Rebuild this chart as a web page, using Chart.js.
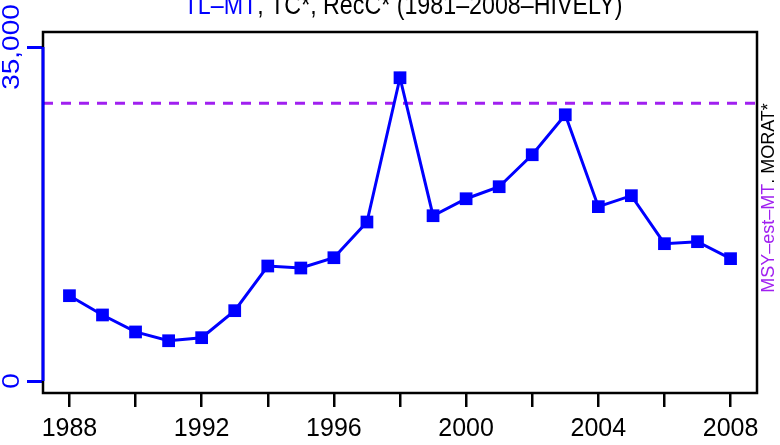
<!DOCTYPE html>
<html><head><meta charset="utf-8">
<script src="https://cdn.jsdelivr.net/npm/chart.js@4.4.0/dist/chart.umd.min.js"></script>
<style>html,body{margin:0;padding:0;background:#fff;overflow:hidden}</style>
</head><body>
<canvas id="c" width="780" height="445"></canvas>
<script>
// ---- data ----
const years = [1988,1989,1990,1991,1992,1993,1994,1995,1996,1997,1998,1999,2000,2001,2002,2003,2004,2005,2006,2007,2008];
const catchValues = [8940,6920,5140,4220,4540,7370,12050,11840,12920,16660,31780,17320,19100,20360,23710,27900,18270,19420,14390,14600,12820];
const msyLevel = 29100;
const yTickValues = [0, 35000];
const yTickLabels = ['0', '35,000'];
const xTickValues = [1988,1990,1992,1994,1996,1998,2000,2002,2004,2006,2008];
const xTickLabels = ['1988','','1992','','1996','','2000','','2004','','2008'];
const titleParts = [['TL\u2013MT', '#0000FF'], [', TC*, RecC* (1981\u20132008\u2013HIVELY)', '#000000']];
const rightParts = [['MSY\u2013est\u2013MT', '#A020F0'], ['. MORAT*', '#000000']];

const SQ = 0.83;
const BLUE = '#0000FF';
const PURPLE = '#A020F0';

const deco = {
  id: 'deco',
  afterDraw(chart) {
    const ctx = chart.ctx, ca = chart.chartArea;
    const ys = chart.scales.y;
    ctx.save();
    // box
    ctx.strokeStyle = '#000'; ctx.lineWidth = 2.5;
    ctx.strokeRect(ca.left, ca.top, ca.right - ca.left, ca.bottom - ca.top);
    // blue y axis segment
    ctx.strokeStyle = BLUE; ctx.lineWidth = 3;
    ctx.beginPath();
    ctx.moveTo(ca.left, ys.getPixelForValue(yTickValues[0]));
    ctx.lineTo(ca.left, ys.getPixelForValue(yTickValues[yTickValues.length - 1]));
    ctx.stroke();
    ctx.restore();
    // y tick labels (rotated)
    yTickValues.forEach((v, i) => {
      ctx.save();
      ctx.translate(13, ys.getPixelForValue(v));
      ctx.rotate(-Math.PI / 2);
      ctx.scale(1, SQ);
      ctx.font = '28px "Liberation Sans", Arial, sans-serif';
      ctx.textAlign = 'center'; ctx.textBaseline = 'middle';
      ctx.fillStyle = BLUE;
      ctx.fillText(yTickLabels[i], 0, 0);
      ctx.restore();
    });
    // title
    const drawParts = (parts, font) => {
      ctx.font = font;
      const total = parts.reduce((s, p) => s + ctx.measureText(p[0]).width, 0);
      let x = -total / 2;
      parts.forEach(p => { ctx.fillStyle = p[1]; ctx.fillText(p[0], x, 0); x += ctx.measureText(p[0]).width; });
    };
    ctx.save();
    ctx.translate((ca.left + ca.right) / 2 + 3, 14);
    ctx.scale(SQ, 1);
    ctx.textAlign = 'left'; ctx.textBaseline = 'alphabetic';
    drawParts(titleParts, '28px "Liberation Sans", Arial, sans-serif');
    ctx.restore();
    // right label
    ctx.save();
    ctx.translate(769, 198);
    ctx.rotate(-Math.PI / 2);
    ctx.textAlign = 'left'; ctx.textBaseline = 'middle';
    drawParts(rightParts, '18px "Liberation Sans", Arial, sans-serif');
    ctx.restore();
  }
};

new Chart(document.getElementById('c'), {
  type: 'line',
  data: {
    datasets: [
      {
        data: years.map((y, i) => ({x: y, y: catchValues[i]})),
        borderColor: BLUE, backgroundColor: BLUE, borderWidth: 3,
        pointStyle: 'rect', pointRadius: 9, pointBorderWidth: 0,
        pointBackgroundColor: BLUE, tension: 0
      },
      {
        data: [{x: 1987.2, y: msyLevel}, {x: 2008.8, y: msyLevel}],
        borderColor: PURPLE, borderWidth: 3, borderDash: [10, 8],
        pointRadius: 0
      }
    ]
  },
  options: {
    responsive: false, animation: false, devicePixelRatio: 1,
    layout: {padding: {top: 32, right: 23, left: 0, bottom: 0}},
    plugins: {legend: {display: false}, title: {display: false}, tooltip: {enabled: false}},
    scales: {
      x: {
        type: 'linear', min: 1987.2, max: 2008.8,
        afterBuildTicks: s => { s.ticks = xTickValues.map(v => ({value: v})); },
        afterFit: s => { s.height = 52; },
        ticks: {
          autoSkip: false, maxRotation: 0, minRotation: 0, padding: 7, color: '#000',
          font: {family: '"Liberation Sans", Arial, sans-serif', size: 25},
          callback: (v) => { const i = xTickValues.indexOf(v); return i >= 0 ? xTickLabels[i] : ''; }
        },
        grid: {drawOnChartArea: false, drawTicks: true, tickLength: 14, color: '#000', lineWidth: 2.5},
        border: {display: false}
      },
      y: {
        type: 'linear', min: -1257, max: 36572,
        afterBuildTicks: s => { s.ticks = yTickValues.map(v => ({value: v})); },
        afterFit: s => { s.width = 43; },
        ticks: {display: false},
        grid: {drawOnChartArea: false, drawTicks: true, tickLength: 16, color: BLUE, lineWidth: 3},
        border: {display: false}
      }
    }
  },
  plugins: [deco]
});
</script>
</body></html>
